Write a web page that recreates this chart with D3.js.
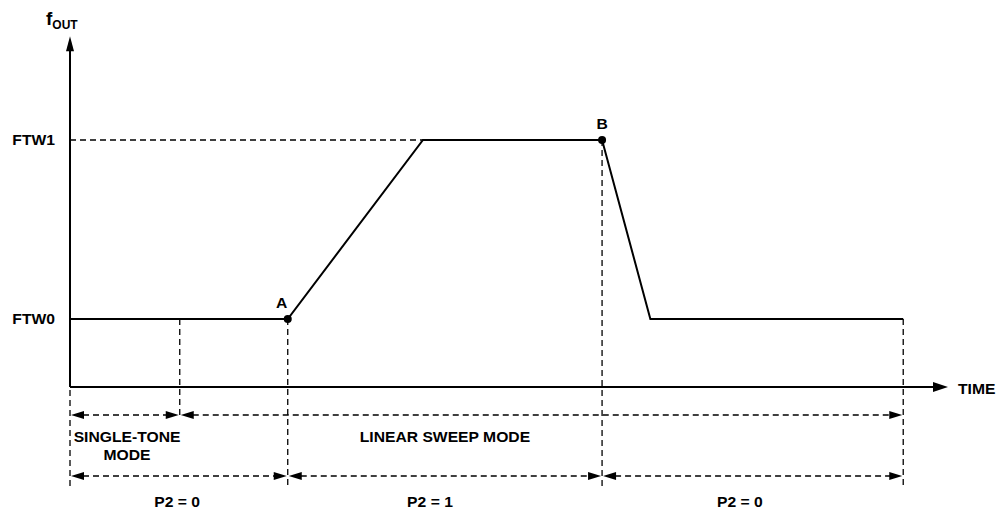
<!DOCTYPE html>
<html lang="en">
    <head>
        <meta charset="utf-8">
        <title>Linear sweep timing</title>
        <script type="text/javascript" src="https://d3js.org/d3.v7.min.js"></script>
        <style type="text/css">
          body {
            margin: 0;
            background: white;
          }
          .lbl {
            font-family: "Liberation Sans", Arial, sans-serif;
            font-weight: bold;
            font-size: 14px;
            fill: black;
          }
          .solid {
            fill: none;
            stroke: black;
            stroke-width: 2;
          }
          .dash {
            fill: none;
            stroke: black;
            stroke-width: 1.3;
            stroke-dasharray: 6,4;
          }
        </style>
    </head>
    <body>
        <script type="text/javascript">
          var w = 999;
          var h = 510;

          // frequency levels and the time points (arbitrary units 0..100)
          var levels = ["FTW0", "FTW1"];
          var levelValues = [0, 1];
          var pointNames = ["A", "B"];
          var pointTimes = [24.8, 60.6];
          var pointLevels = [0, 1];

          // output frequency trace
          var traceTimes = [0, 24.8, 40.2, 60.6, 66.1, 94.9];
          var traceLevels = [0, 0, 1, 1, 0, 0];

          // mode / P2 spans
          var modeEdges = [0, 12.5, 94.9];
          var modeNames = ["SINGLE-TONE|MODE", "LINEAR SWEEP MODE"];
          var modeLabelTimes = [6.5, 42.7];
          var p2Edges = [0, 24.8, 60.6, 94.9];
          var p2Names = ["P2 = 0", "P2 = 1", "P2 = 0"];
          var p2LabelTimes = [12.2, 41, 76.3];

          var svg = d3.select("body").append("svg")
                      .attr("width", w).attr("height", h);

          var x = d3.scaleLinear().domain([0, 100]).range([70, 948]);
          var y = d3.scaleLinear().domain([0, 1]).range([319, 140]);
          var axisLevel = -0.38;
          var topLevel = 1.58;
          var row1 = 415, row2 = 476, dashBottom = 488;

          // stretched bold text, like the original figure
          function label(tx, ty, str, anchor) {
            svg.append("g")
               .attr("transform", "translate(" + tx + "," + ty + ") scale(1.12,1)")
               .append("text")
               .attr("class", "lbl")
               .attr("text-anchor", anchor || "middle")
               .text(str);
          }

          function arrowHead(tipX, tipY, dir, len, half) {
            // dir: "l", "r", "u"
            var pts;
            if (dir == "l") pts = [[tipX, tipY], [tipX + len, tipY - half], [tipX + len, tipY + half]];
            else if (dir == "r") pts = [[tipX, tipY], [tipX - len, tipY - half], [tipX - len, tipY + half]];
            else pts = [[tipX, tipY], [tipX - half, tipY + len], [tipX + half, tipY + len]];
            svg.append("polygon").attr("points", pts.join(" ")).attr("fill", "black");
          }

          // axes
          svg.append("line").attr("class", "solid")
             .attr("x1", x(0)).attr("y1", y(axisLevel))
             .attr("x2", x(0)).attr("y2", y(topLevel) + 8);
          arrowHead(x(0), y(topLevel), "u", 15, 4);
          svg.append("line").attr("class", "solid")
             .attr("x1", x(0)).attr("y1", y(axisLevel))
             .attr("x2", x(100) - 8).attr("y2", y(axisLevel));
          arrowHead(x(100), y(axisLevel), "r", 15, 5);

          // axis titles
          var ft = svg.append("text").attr("class", "lbl")
                      .attr("x", 46).attr("y", 25).style("font-size", "19px");
          ft.append("tspan").text("f");
          ft.append("tspan").attr("dy", 4).style("font-size", "12px").text("OUT");
          label(958, 394, "TIME", "start");

          // level labels
          levels.forEach(function(d, i) {
            label(55, y(levelValues[i]) + 5, d, "end");
          });

          // dashed reference for FTW1
          svg.append("line").attr("class", "dash")
             .attr("x1", x(0)).attr("y1", y(1))
             .attr("x2", x(traceTimes[2])).attr("y2", y(1));

          // dashed verticals
          var verticals = [
            [0, axisLevel, dashBottom],
            [modeEdges[1], 0, row1 + 2],
            [pointTimes[0], 0, dashBottom],
            [pointTimes[1], 1, dashBottom],
            [traceTimes[5], 0, dashBottom - 3]
          ];
          verticals.forEach(function(v) {
            svg.append("line").attr("class", "dash")
               .attr("x1", x(v[0])).attr("x2", x(v[0]))
               .attr("y1", y(v[1]) + (v[1] == axisLevel ? 3 : 0))
               .attr("y2", v[2]);
          });

          // frequency trace
          var line = d3.line()
                       .x(function(d, i) { return x(traceTimes[i]); })
                       .y(function(d) { return y(d); });
          svg.append("path").datum(traceLevels)
             .attr("class", "solid")
             .attr("stroke-linejoin", "miter")
             .attr("d", line);

          // points A and B
          pointNames.forEach(function(d, i) {
            svg.append("circle")
               .attr("cx", x(pointTimes[i])).attr("cy", y(pointLevels[i]))
               .attr("r", 4).attr("fill", "black");
            label(x(pointTimes[i]) - (i == 0 ? 6 : 0), y(pointLevels[i]) - 11, d);
          });

          // dimension arrows
          function span(t0, t1, yy) {
            var a = x(t0) + 1, b = x(t1) - 1;
            svg.append("line").attr("class", "dash")
               .attr("x1", a + 12).attr("x2", b - 12)
               .attr("y1", yy).attr("y2", yy);
            arrowHead(a, yy, "l", 13, 4);
            arrowHead(b, yy, "r", 13, 4);
          }
          for (var i = 0; i < modeEdges.length - 1; i++) span(modeEdges[i], modeEdges[i + 1], row1);
          for (var j = 0; j < p2Edges.length - 1; j++) span(p2Edges[j], p2Edges[j + 1], row2);

          // mode names
          modeNames.forEach(function(d, i) {
            var parts = d.split("|");
            parts.forEach(function(p, k) {
              label(x(modeLabelTimes[i]), 442 + k * 18, p);
            });
          });
          p2Names.forEach(function(d, i) {
            label(x(p2LabelTimes[i]), 507, d);
          });
        </script>
    </body>
</html>
